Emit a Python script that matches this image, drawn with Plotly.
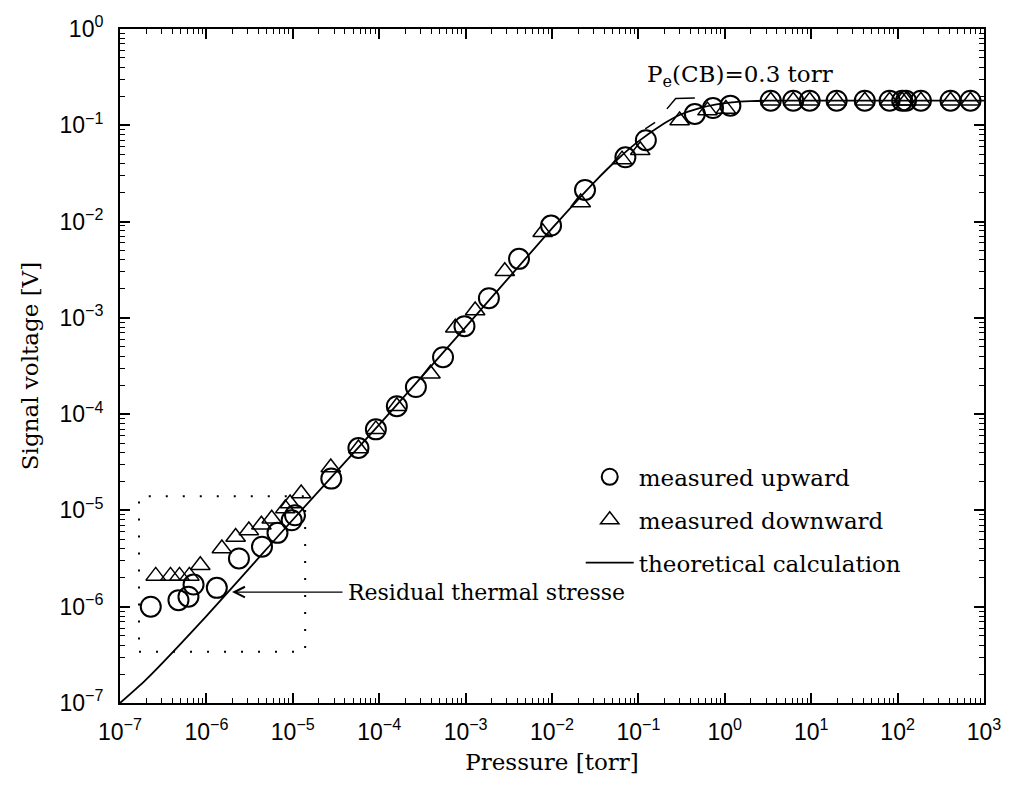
import plotly.graph_objects as go
import numpy as np

# ---- data ----
up_x = [2.27e-7, 4.75e-7, 6.2e-7, 7.1e-7, 1.32e-6, 2.38e-6, 4.4e-6, 6.65e-6, 9.7e-6, 1.06e-5,
        2.79e-5, 5.75e-5, 9.15e-5, 1.6e-4, 2.66e-4, 5.48e-4, 9.7e-4, 1.86e-3, 4.15e-3, 9.75e-3,
        2.41e-2, 7.07e-2, 0.122, 0.45, 0.73, 1.16, 3.4, 6.2, 9.6, 19.7, 41.7, 80.8, 113, 125,
        186, 410, 697]
up_y = [1.0e-6, 1.17e-6, 1.27e-6, 1.70e-6, 1.57e-6, 3.17e-6, 4.2e-6, 5.85e-6, 7.9e-6, 8.9e-6,
        2.14e-5, 4.45e-5, 6.95e-5, 1.21e-4, 1.91e-4, 3.9e-4, 8.2e-4, 1.6e-3, 4.1e-3, 9.1e-3,
        2.13e-2, 4.65e-2, 7.0e-2, 0.131, 0.151, 0.16, 0.18, 0.18, 0.18, 0.18, 0.18, 0.18, 0.18, 0.18,
        0.18, 0.18, 0.18]

down_x = [2.59e-7, 3.84e-7, 4.88e-7, 6.35e-7, 8.5e-7, 1.51e-6, 2.18e-6, 3.1e-6, 4.33e-6, 5.7e-6,
          8.2e-6, 9.3e-6, 1.25e-5, 2.75e-5, 5.75e-5, 9.15e-5, 1.6e-4, 3.92e-4, 7.6e-4, 1.29e-3,
          2.84e-3, 7.8e-3, 2.15e-2, 6.47e-2, 0.105, 0.30, 0.63, 1.03, 3.4, 6.2, 9.6, 19.7, 41.7,
          80.8, 113, 125, 186, 410, 697]
down_y = [2.09e-6, 2.09e-6, 2.09e-6, 2.09e-6, 2.7e-6, 4.03e-6, 5.3e-6, 6.2e-6, 7.1e-6, 8.2e-6,
          1.05e-5, 1.18e-5, 1.5e-5, 2.79e-5, 4.4e-5, 6.95e-5, 1.21e-4, 2.63e-4, 7.9e-4, 1.19e-3,
          3.05e-3, 7.75e-3, 1.58e-2, 4.4e-2, 5.5e-2, 0.112, 0.142, 0.148, 0.18, 0.18, 0.18, 0.18, 0.18,
          0.18, 0.18, 0.18, 0.18, 0.18, 0.18]

theory_x = [1e-7, 2e-7, 1e-6, 1e-5, 1e-4, 1e-3, 1e-2, 3e-2, 6e-2, 0.1, 0.2, 0.3, 0.5, 0.8,
            1.2, 2, 3, 10, 100, 1000]
theory_y = [1e-7, 1.75e-7, 8.0e-7, 8.0e-6, 7.8e-5, 8.0e-4, 8.5e-3, 2.5e-2, 4.6e-2, 6.8e-2,
            0.105, 0.128, 0.15, 0.165, 0.173, 0.178, 0.18, 0.18, 0.18, 0.18]

# tick exponents
x_exps = list(range(-7, 4))
y_exps = list(range(-7, 1))

# dotted region box (pressure, voltage bounds)
box_x = [1.66e-7, 1.39e-5]
box_y = [3.4e-7, 1.4e-5]

# arrow tip for residual stress note
arrow_tip = (1.98e-6, 1.42e-6)

# leader near P_e label
leader_x = [0.214, 0.27, 0.45]
leader_y = [0.148, 0.19, 0.192]
dash_x = [0.12, 0.156]
dash_y = [0.092, 0.107]

x_range = [-7, 3]
y_range = [-7, 0]

SERIF = "DejaVu Serif"
SANS = "Liberation Sans"
FS = 23


def pow_label(e):
    s = str(e).replace("-", "\u2212")
    return "10<sup>" + s + "</sup>"


fig = go.Figure()

fig.add_trace(go.Scatter(
    x=[box_x[0], box_x[1], box_x[1], box_x[0], box_x[0]],
    y=[box_y[0], box_y[0], box_y[1], box_y[1], box_y[0]],
    mode="lines", line=dict(color="black", width=2, dash="2px,15px"),
    showlegend=False, hoverinfo="skip"))

fig.add_trace(go.Scatter(x=leader_x, y=leader_y, mode="lines",
                         line=dict(color="black", width=1.5), showlegend=False, hoverinfo="skip"))
fig.add_trace(go.Scatter(x=dash_x, y=dash_y, mode="lines",
                         line=dict(color="black", width=1.5), showlegend=False, hoverinfo="skip"))

fig.add_trace(go.Scatter(
    x=up_x, y=up_y, mode="markers", name="measured upward", legendgroup="a",
    marker=dict(symbol="circle-open", size=20, color="black", line=dict(width=2, color="black"))))
fig.add_trace(go.Scatter(
    x=down_x, y=down_y, mode="markers", name="measured downward", legendgroup="b",
    marker=dict(symbol="triangle-up-open", size=17, color="black", line=dict(width=1.5, color="black"))))
fig.add_trace(go.Scatter(
    x=theory_x, y=theory_y, mode="lines", name="theoretical calculation", legendgroup="c",
    line=dict(color="black", width=1.8, shape="spline", smoothing=0.6)))

fig.add_annotation(x=np.log10(arrow_tip[0]), y=np.log10(arrow_tip[1]), xref="x", yref="y",
                   text="", showarrow=True, axref="pixel", ayref="pixel", ax=112, ay=0,
                   arrowhead=5, arrowsize=1.6, arrowwidth=1.3, arrowcolor="black")
fig.add_annotation(x=np.log10(arrow_tip[0]), y=np.log10(arrow_tip[1]), xref="x", yref="y",
                   text="Residual thermal stresse", showarrow=False, xanchor="left",
                   xshift=114, font=dict(family=SERIF, size=22, color="black"))
fig.add_annotation(x=(650 - 120) / 872, y=(703 - 58) / 675, xref="paper", yref="paper",
                   text="P<sub>e</sub>(CB)=0.3 torr", showarrow=False, xanchor="left",
                   font=dict(family=SERIF, size=FS, color="black"))

minor_common = dict(ticks="inside", ticklen=5, tickwidth=1.2, tickcolor="black", dtick="D1", showgrid=False)
axis_common = dict(
    type="log", showline=True, linecolor="black", linewidth=2, mirror="allticks",
    ticks="inside", ticklen=10, tickwidth=1.5, tickcolor="black",
    showgrid=False, zeroline=False,
    tickfont=dict(family=SANS, size=23, color="black"),
    minor=minor_common,
)

fig.update_layout(
    width=1013, height=789,
    margin=dict(l=120, r=21, t=28, b=86),
    paper_bgcolor="white", plot_bgcolor="white",
    xaxis=dict(range=x_range, tickvals=[10.0 ** e for e in x_exps], ticktext=[pow_label(e) for e in x_exps],
               ticklabelstandoff=7,
               title=dict(text="Pressure [torr]", font=dict(family=SERIF, size=FS, color="black"), standoff=10),
               **axis_common),
    yaxis=dict(range=y_range, tickvals=[10.0 ** e for e in y_exps], ticktext=[pow_label(e) for e in y_exps],
               ticklabelstandoff=10,
               title=dict(text="Signal voltage [V]", font=dict(family=SERIF, size=FS, color="black"), standoff=14),
               **axis_common),
    legend=dict(x=(585 - 120) / 872, y=(703 - 455) / 675, xanchor="left", yanchor="top",
                bgcolor="rgba(0,0,0,0)", tracegroupgap=10, itemwidth=48,
                font=dict(family=SERIF, size=FS, color="black")),
    showlegend=True,
)

fig.write_html("out.html")
